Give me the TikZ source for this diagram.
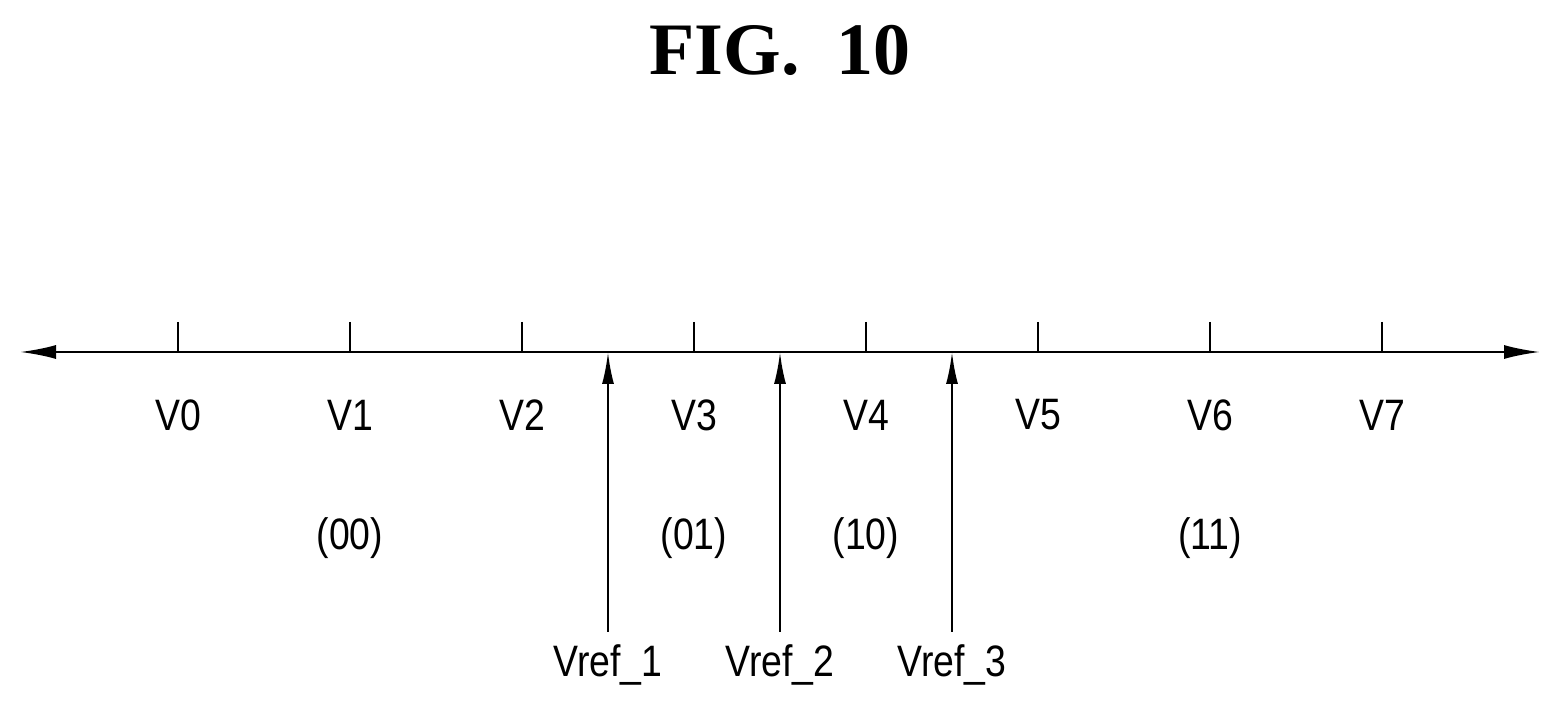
\documentclass[tikz,border=0pt]{standalone}
\usepackage{fontspec}
\setmainfont{Liberation Sans}
\newfontfamily\titlefont{Liberation Serif}
\usetikzlibrary{arrows.meta}
\begin{document}
\begin{tikzpicture}[x=0.5pt,y=-0.5pt,
  lab/.style={font=\fontsize{22}{26}\selectfont,inner sep=0pt,xscale=0.85},
  tk/.style={line width=1.2pt},
  arr/.style={line width=1.2pt,-{Latex[length=16pt,width=6pt]}}]
\useasboundingbox (0,0) rectangle (1560,705);
\node[font=\titlefont\bfseries\fontsize{37}{44}\selectfont] (title) at (780,50) {FIG.\ \ 10};
\coordinate (L) at (20,352); \coordinate (R) at (1540,352);
\draw[line width=1.2pt,{Latex[length=18pt,width=7pt]}-{Latex[length=18pt,width=7pt]}] (L) -- (R);
\foreach \i/\x in {0/178,1/350,2/522,3/694,4/866,5/1038,6/1210,7/1382}{
  \coordinate (t\i) at (\x,322);
  \draw[tk] (t\i) -- (\x,352);
  \node[lab] (v\i) at (\x,415) {V\i};
}
\foreach \i/\x in {1/608,2/780,3/952}{
  \coordinate (b\i) at (\x,632);
  \coordinate (a\i) at (\x,352);
  \draw[arr] (b\i) -- (a\i);
  \node[lab] (r\i) at (\x,665) {Vref\_\i};
}
\node[lab] (c0) at (350,538) {(00)};
\node[lab] (c1) at (694,538) {(01)};
\node[lab] (c2) at (866,538) {(10)};
\node[lab] (c3) at (1210,538) {(11)};
\end{tikzpicture}
\end{document}
